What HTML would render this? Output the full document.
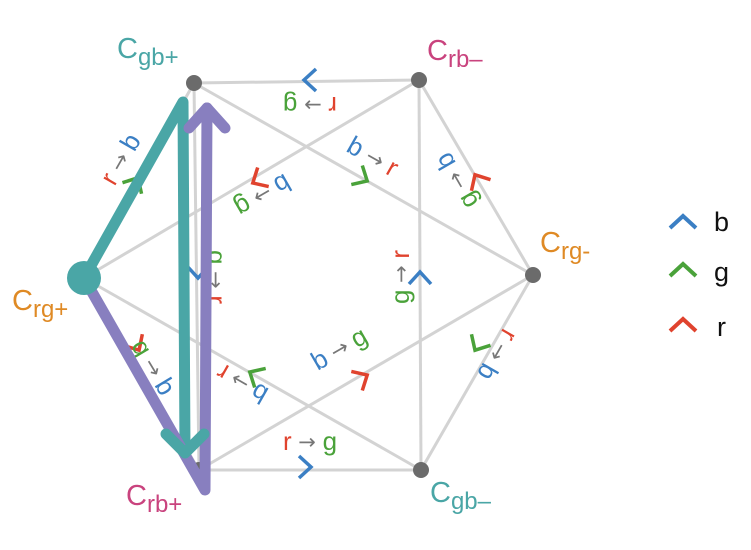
<!DOCTYPE html>
<html><head><meta charset="utf-8"><style>
html,body{margin:0;padding:0;background:#fff;width:751px;height:550px;overflow:hidden}
svg{display:block}
text{font-family:"Liberation Sans",sans-serif}
.a{font-family:"DejaVu Sans",sans-serif;font-size:21px;fill:#777}
</style></head><body>
<svg width="751" height="550" viewBox="0 0 751 550" xmlns="http://www.w3.org/2000/svg">
<g stroke="#d3d3d3" stroke-width="3" fill="none">
<line x1="194" y1="83" x2="419" y2="80"/>
<line x1="194" y1="83" x2="199" y2="470"/>
<line x1="194" y1="83" x2="84" y2="278"/>
<line x1="194" y1="83" x2="533" y2="275"/>
<line x1="419" y1="80" x2="84" y2="278"/>
<line x1="419" y1="80" x2="533" y2="275"/>
<line x1="419" y1="80" x2="421" y2="470"/>
<line x1="84" y1="278" x2="421" y2="470"/>
<line x1="84" y1="278" x2="199" y2="470"/>
<line x1="533" y1="275" x2="199" y2="470"/>
<line x1="533" y1="275" x2="421" y2="470"/>
<line x1="199" y1="470" x2="421" y2="470"/>
</g>
<g fill="#6b6b6b">
<circle cx="194" cy="83" r="8"/><circle cx="419" cy="80" r="8"/><circle cx="533" cy="275" r="8"/>
<circle cx="421" cy="470" r="8"/><circle cx="199" cy="470" r="8"/>
</g>
<g fill="none" stroke-width="3.5">
<path d="M-6,-11 L6,0 L-6,11" stroke="#3b7fc4" transform="translate(310,80) rotate(180)"/>
<path d="M-6,-11 L6,0 L-6,11" stroke="#4aa23a" transform="translate(135,183) rotate(-60)"/>
<path d="M-6,-11 L6,0 L-6,11" stroke="#e0432e" transform="translate(258,180) rotate(150)"/>
<path d="M-6,-11 L6,0 L-6,11" stroke="#4aa23a" transform="translate(362,178) rotate(30)"/>
<path d="M-6,-11 L6,0 L-6,11" stroke="#e0432e" transform="translate(478,180) rotate(240)"/>
<path d="M-6,-11 L6,0 L-6,11" stroke="#3b7fc4" transform="translate(420,278) rotate(-90)"/>
<path d="M-6,-11 L6,0 L-6,11" stroke="#3b7fc4" transform="translate(198,272) rotate(90)"/>
<path d="M-6,-11 L6,0 L-6,11" stroke="#e0432e" transform="translate(136,345) rotate(59)"/>
<path d="M-6,-11 L6,0 L-6,11" stroke="#4aa23a" transform="translate(255,375) rotate(210)"/>
<path d="M-6,-11 L6,0 L-6,11" stroke="#e0432e" transform="translate(362,378) rotate(-30)"/>
<path d="M-6,-11 L6,0 L-6,11" stroke="#4aa23a" transform="translate(478,345) rotate(120)"/>
<path d="M-6,-11 L6,0 L-6,11" stroke="#3b7fc4" transform="translate(305,467) rotate(0)"/>
</g>
<g font-size="26" text-anchor="middle" dominant-baseline="middle">
<text transform="translate(310,104) rotate(180)"><tspan fill="#e0432e">r</tspan><tspan class="a"> → </tspan><tspan fill="#4aa23a" text-decoration="underline">g</tspan></text>
<text transform="translate(122,160) rotate(-60)"><tspan fill="#e0432e">r</tspan><tspan class="a"> → </tspan><tspan fill="#3b7fc4">b</tspan></text>
<text transform="translate(262,194) rotate(150)"><tspan fill="#3b7fc4">b</tspan><tspan class="a"> → </tspan><tspan fill="#4aa23a">g</tspan></text>
<text transform="translate(372,158) rotate(29.5)"><tspan fill="#3b7fc4">b</tspan><tspan class="a"> → </tspan><tspan fill="#e0432e">r</tspan></text>
<text transform="translate(458,180) rotate(240)"><tspan fill="#4aa23a">g</tspan><tspan class="a"> → </tspan><tspan fill="#3b7fc4">b</tspan></text>
<text transform="translate(402,277) rotate(-90)"><tspan fill="#4aa23a">g</tspan><tspan class="a"> → </tspan><tspan fill="#e0432e">r</tspan></text>
<text transform="translate(215,277) rotate(90)"><tspan fill="#4aa23a">g</tspan><tspan class="a"> → </tspan><tspan fill="#e0432e">r</tspan></text>
<text transform="translate(152,368) rotate(59)"><tspan fill="#4aa23a">g</tspan><tspan class="a"> → </tspan><tspan fill="#3b7fc4">b</tspan></text>
<text transform="translate(243,382) rotate(209.7)"><tspan fill="#3b7fc4">b</tspan><tspan class="a"> → </tspan><tspan fill="#e0432e">r</tspan></text>
<text transform="translate(340,350) rotate(-30)"><tspan fill="#3b7fc4">b</tspan><tspan class="a"> → </tspan><tspan fill="#4aa23a">g</tspan></text>
<text transform="translate(496,354) rotate(120)"><tspan fill="#e0432e">r</tspan><tspan class="a"> → </tspan><tspan fill="#3b7fc4">b</tspan></text>
<text transform="translate(310,443)"><tspan fill="#e0432e">r</tspan><tspan class="a"> → </tspan><tspan fill="#4aa23a" text-decoration="underline">g</tspan></text>
</g>
<g fill="none" stroke-linecap="round" stroke-linejoin="round">
<polyline points="84,278 183,102 185,452" stroke="#4aa6a6" stroke-width="11"/>
<polyline points="84,278 205,490 207,108" stroke="#887fbf" stroke-width="11"/>
<polyline points="189,128 207,108 225,128" stroke="#887fbf" stroke-width="11"/>
<polyline points="166,434 185,453 204,434" stroke="#4aa6a6" stroke-width="11"/>
</g>
<circle cx="84" cy="278" r="17" fill="#4aa6a6"/>
<g font-size="29">
<text x="117" y="58" fill="#4aa6a6">C<tspan font-size="24" dy="7">gb+</tspan></text>
<text x="427" y="60" fill="#c9437e">C<tspan font-size="24" dy="7">rb–</tspan></text>
<text x="540" y="252" fill="#df8a25">C<tspan font-size="24" dy="7">rg-</tspan></text>
<text x="12" y="310" fill="#df8a25">C<tspan font-size="24" dy="7">rg+</tspan></text>
<text x="126" y="505" fill="#c9437e">C<tspan font-size="24" dy="7">rb+</tspan></text>
<text x="430" y="502" fill="#4aa6a6">C<tspan font-size="24" dy="7">gb–</tspan></text>
</g>
<g fill="none" stroke-width="4">
<path d="M670,228 L683,216 L696,228" stroke="#3b7fc4"/>
<path d="M670,276 L683,264 L696,276" stroke="#4aa23a"/>
<path d="M670,331 L683,319 L696,331" stroke="#e0432e"/>
</g>
<g font-size="27" fill="#111">
<text x="714" y="231">b</text>
<text x="714" y="281">g</text>
<text x="717" y="336">r</text>
</g>
</svg>
</body></html>
